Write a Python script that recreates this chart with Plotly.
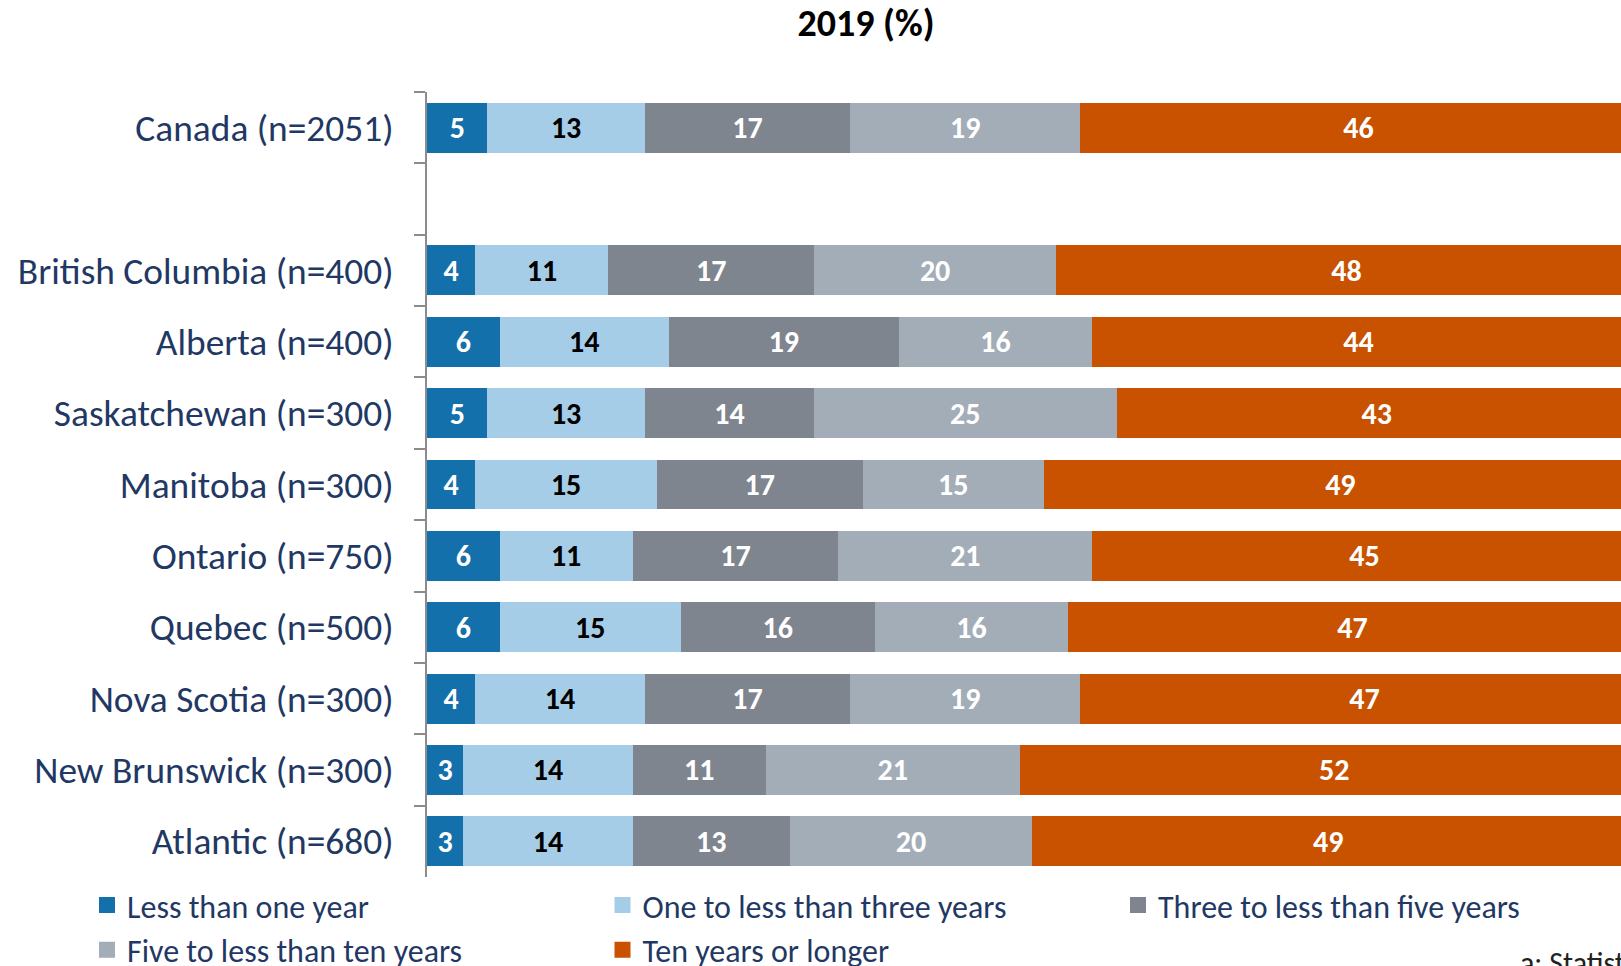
import plotly.graph_objects as go

categories = ["Canada (n=2051)", " ", "British Columbia (n=400)", "Alberta (n=400)",
              "Saskatchewan (n=300)", "Manitoba (n=300)", "Ontario (n=750)",
              "Quebec (n=500)", "Nova Scotia (n=300)", "New Brunswick (n=300)",
              "Atlantic (n=680)"]

series_names = ["Less than one year", "One to less than three years",
                "Three to less than five years", "Five to less than ten years",
                "Ten years or longer"]

less_than_one = [5, None, 4, 6, 5, 4, 6, 6, 4, 3, 3]
one_to_three = [13, None, 11, 14, 13, 15, 11, 15, 14, 14, 14]
three_to_five = [17, None, 17, 19, 14, 17, 17, 16, 17, 11, 13]
five_to_ten = [19, None, 20, 16, 25, 15, 21, 16, 19, 21, 20]
ten_plus = [46, None, 48, 44, 43, 49, 45, 47, 47, 52, 49]

series_values = [less_than_one, one_to_three, three_to_five, five_to_ten, ten_plus]
colors = ["#1470AB", "#A6CDE8", "#7F858F", "#A3ADB8", "#C85200"]
text_colors = ["white", "black", "white", "white", "white"]

FONT = "Carlito, Lato, sans-serif"
NAVY = "#1F3864"

fig = go.Figure()
for name, vals, col, tcol in zip(series_names, series_values, colors, text_colors):
    fig.add_trace(go.Bar(
        y=categories, x=vals, name=name, orientation="h",
        marker=dict(color=col, line=dict(width=0)),
        text=[("" if v is None else str(v)) for v in vals],
        textposition="inside", insidetextanchor="middle",
        textfont=dict(family=FONT, size=30, color=tcol, weight="bold"),
        hoverinfo="skip", showlegend=False,
    ))
# legend entries (square swatches)
for name, col in zip(series_names, colors):
    fig.add_trace(go.Scatter(
        x=[None], y=[None], mode="markers", name=name,
        marker=dict(symbol="square", size=16, color=col),
        hoverinfo="skip", showlegend=True,
    ))

W, H = 1621, 966
L, R, T, B = 427, 0, 92, 89
PH = H - T - B
PW = W - L - R

fig.update_layout(
    width=W, height=H,
    barmode="stack", bargap=0.30,
    margin=dict(l=L, r=R, t=T, b=B, pad=0, autoexpand=False),
    paper_bgcolor="white", plot_bgcolor="white",
    font=dict(family=FONT, color=NAVY),
    uniformtext=dict(minsize=30, mode="show"),
    title=dict(text="<b>2019 (%)</b>", x=866 / W, xref="container", xanchor="center",
               y=1 - 23 / H, yref="container", yanchor="middle",
               font=dict(family=FONT, size=38, color="black")),
    xaxis=dict(range=[0, 98.7], visible=False, fixedrange=True),
    yaxis=dict(categoryorder="array", categoryarray=categories, autorange="reversed",
               showline=True, linecolor="#8C8C8C", linewidth=2,
               ticks="outside", tickson="boundaries", ticklen=11, tickcolor="#8C8C8C",
               tickwidth=2, ticklabelstandoff=24,
               tickfont=dict(family=FONT, size=37.4, color=NAVY),
               showgrid=False, zeroline=False, fixedrange=True),
    legend=dict(orientation="h", x=(87 - L) / PW, xanchor="left",
                y=-0.001, yanchor="top",
                traceorder="normal", entrywidth=470.5, itemsizing="trace",
                font=dict(family=FONT, size=32, color=NAVY),
                bgcolor="rgba(0,0,0,0)"),
    annotations=[dict(text="a: Statistics Canada", xref="paper", yref="paper",
                      x=(1518 - L) / PW, xanchor="left",
                      y=-(962 - (H - B)) / PH, yanchor="middle",
                      showarrow=False, font=dict(family=FONT, size=30, color="#222222"))],
)

fig.write_html("out.html", config={"displayModeBar": False},
               post_script="document.body.style.margin='0';")
